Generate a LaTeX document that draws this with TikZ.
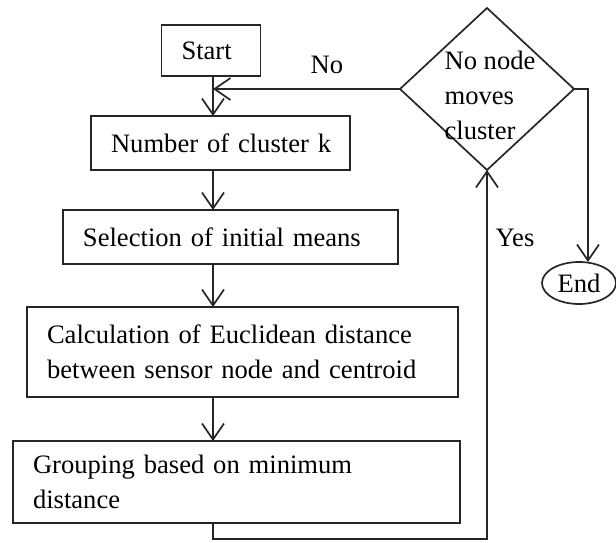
\documentclass[tikz,border=0pt]{standalone}
\usepackage{fontspec}
\setmainfont{Liberation Serif}
\usetikzlibrary{shapes.geometric,arrows.meta}
\begin{document}
\begin{tikzpicture}[x=0.5pt,y=-0.5pt,
  every node/.style={font=\fontsize{13.3}{17.5}\selectfont, text=black},
  tbox/.style={draw=black!85, line width=0.85pt, inner ysep=0pt, inner xsep=10pt, outer sep=0pt, align=left},
  arr/.style={draw=black!85, line width=0.85pt, -{Straight Barb[length=8pt,width=11pt]}}
]
\useasboundingbox (0,0) rectangle (616,542);
\coordinate (colx) at (213,0);
\node[tbox, text width=29.5pt, minimum height=25.5pt] (start) at (211,50.5) {\mbox{Start}};
\node[tbox, text width=109.5pt, minimum height=27pt] (num) at (220.5,143) {\mbox{Number of cluster k}};
\node[tbox, text width=147.5pt, minimum height=27pt] (sel) at (230.5,237) {\mbox{Selection of initial means}};
\node[tbox, text width=195.5pt, minimum height=45pt] (calc) at (242.5,352) {Calculation of Euclidean distance\\between sensor node and centroid};
\node[tbox, text width=203.5pt, minimum height=41pt] (grp) at (236.5,482) {Grouping based on minimum\\distance};
\node[diamond, draw=black!85, line width=0.85pt, minimum width=87pt, minimum height=81pt, inner sep=0pt, outer sep=0pt] (dec) at (487,89) {};
\node[align=left, inner sep=0pt] (dect) at (490,95) {No node\\moves\\cluster};
\node[ellipse, draw=black!85, line width=0.85pt, minimum width=37pt, minimum height=21pt, inner sep=0pt, outer sep=0pt] (end) at (579,283) {End};
\node (nolab) at (327,65) {No};
\node (yeslab) at (515,238) {Yes};

\draw[arr] (start.south -| colx) -- (num.north -| colx);
\draw[arr] (num.south -| colx) -- (sel.north -| colx);
\draw[arr] (sel.south -| colx) -- (calc.north -| colx);
\draw[arr] (calc.south -| colx) -- (grp.north -| colx);
\draw[arr] (dec.west) -- (dec.west -| colx);
\draw[arr] (grp.south -| colx) -- ++(0,16) -| (dec.south);
\coordinate (rc) at (588,89);
\draw[arr] (dec.east) -- (rc) -- (rc |- end.north);
\end{tikzpicture}
\end{document}
